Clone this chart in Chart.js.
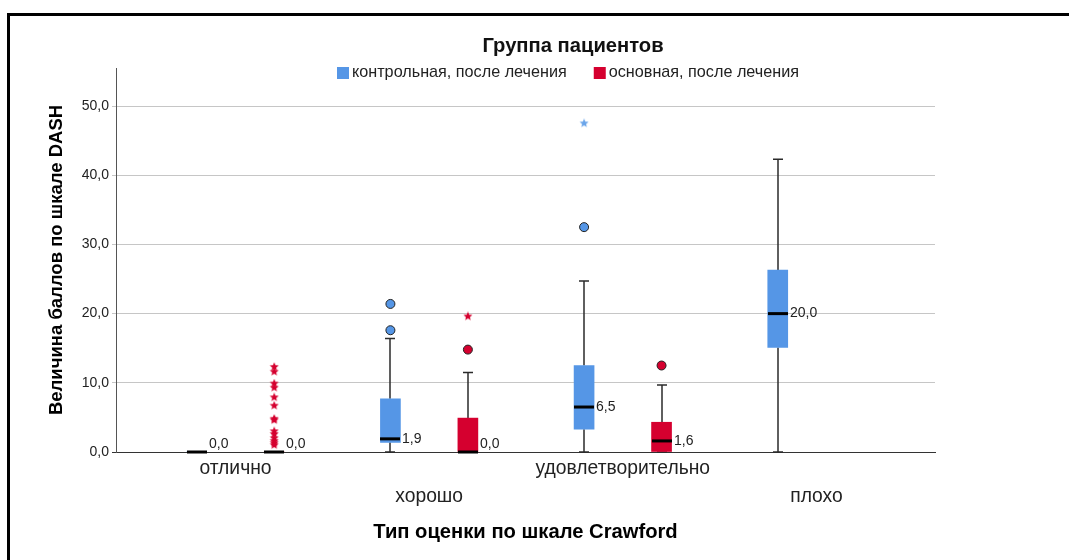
<!DOCTYPE html>
<html>
<head>
<meta charset="utf-8">
<script src="https://cdn.jsdelivr.net/npm/chart.js@4/dist/chart.umd.min.js"></script>
<style>
  html, body { margin: 0; padding: 0; background: #fff; overflow: hidden; }
  #wrap { position: relative; width: 1069px; height: 560px; }
  #frame { position: absolute; left: 7px; top: 13px; right: 0; bottom: 0;
           border-top: 3px solid #000; border-left: 3px solid #000; pointer-events: none; }
</style>
</head>
<body>
<div id="wrap">
  <canvas id="chart"></canvas>
  <div id="frame"></div>
</div>
<script>
// Crawford rating categories (x axis)
const categories = ['отлично', 'хорошо', 'удовлетворительно', 'плохо'];
const seriesNames = ['контрольная, после лечения', 'основная, после лечения'];
const yTickValues = [0, 10, 20, 30, 40, 50];

// DASH score box-plot statistics per category (null = no data)
const controlMin    = [0, 0,   0,    0];
const controlQ1     = [0, 1.4, 3.3,  15.1];
const controlMedian = [0, 1.9, 6.5,  20.0];
const controlQ3     = [0, 7.7, 12.5, 26.3];
const controlMax    = [0, 16.4, 24.7, 42.3];

const mainMin    = [0, 0,    0,   null];
const mainQ1     = [0, 0,    0,   null];
const mainMedian = [0, 0,    1.6, null];
const mainQ3     = [0, 4.9,  4.3, null];
const mainMax    = [0, 11.5, 9.7, null];

// outliers: circles (> 1.5 IQR) and stars (> 3 IQR)
const controlCircles = [[], [17.6, 21.4], [32.5], []];
const controlStars   = [[], [], [47.5], []];
const mainCircles    = [[], [14.8], [12.5], []];
const mainStars      = [[12.3, 11.6, 9.9, 9.3, 7.9, 6.7, 4.8, 4.6, 3.0, 2.6, 2.0, 1.6, 1.3, 1.0], [19.6], [], []];

// styling
const FONT = "'Liberation Sans', Arial, sans-serif";
const BLUE = '#5596e6';
const RED = '#d5002f';
const BLUE_STAR = '#6aa5ea';
const BOX_W = 20;
const CAP_W = 10;
const GROUP_OFFSET = [-0.2, 0.2];

const groups = [
  { min: controlMin, q1: controlQ1, med: controlMedian, q3: controlQ3, max: controlMax, off: GROUP_OFFSET[0] },
  { min: mainMin, q1: mainQ1, med: mainMedian, q3: mainQ3, max: mainMax, off: GROUP_OFFSET[1] }
];

function fmt(v) { return v.toFixed(1).replace('.', ','); }

function makeStar(color, size) {
  const c = document.createElement('canvas');
  c.width = size; c.height = size;
  const g = c.getContext('2d');
  const cx = size / 2, cy = size / 2, R = size / 2 - 0.3, r = R * 0.45;
  g.beginPath();
  for (let k = 0; k < 10; k++) {
    const a = -Math.PI / 2 + k * Math.PI / 5;
    const rr = k % 2 === 0 ? R : r;
    g.lineTo(cx + rr * Math.cos(a), cy + rr * Math.sin(a));
  }
  g.closePath();
  g.fillStyle = color;
  g.fill();
  return c;
}

function boxData(g) {
  const out = [];
  g.q3.forEach((q3, i) => { if (q3 != null) out.push({ x: i + g.off, y: [g.q1[i], q3] }); });
  return out;
}
function pointData(list, off) {
  const out = [];
  list.forEach((vals, i) => vals.forEach(v => out.push({ x: i + off, y: v })));
  return out;
}

// whiskers under the boxes, medians and median labels on top
const boxWhiskers = {
  id: 'boxWhiskers',
  beforeDatasetsDraw(chart) {
    const { ctx, scales: { x, y } } = chart;
    ctx.save();
    ctx.strokeStyle = '#2b2b2b';
    ctx.lineWidth = 1.5;
    groups.forEach(g => {
      g.max.forEach((mx, i) => {
        if (mx == null || mx === g.q3[i]) return;
        const px = Math.round(x.getPixelForValue(i + g.off));
        const yMax = y.getPixelForValue(mx), yQ3 = y.getPixelForValue(g.q3[i]);
        const yQ1 = y.getPixelForValue(g.q1[i]), yMin = y.getPixelForValue(g.min[i]);
        ctx.beginPath();
        ctx.moveTo(px, yQ3); ctx.lineTo(px, yMax);
        ctx.moveTo(px, yQ1); ctx.lineTo(px, yMin);
        ctx.moveTo(px - CAP_W / 2, yMax); ctx.lineTo(px + CAP_W / 2, yMax);
        ctx.moveTo(px - CAP_W / 2, yMin); ctx.lineTo(px + CAP_W / 2, yMin);
        ctx.stroke();
      });
    });
    ctx.restore();
  },
  afterDatasetsDraw(chart) {
    const { ctx, scales: { x, y } } = chart;
    const yZero = y.getPixelForValue(0);
    ctx.save();
    groups.forEach(g => {
      g.med.forEach((m, i) => {
        if (m == null) return;
        const px = Math.round(x.getPixelForValue(i + g.off));
        const py = y.getPixelForValue(m);
        ctx.fillStyle = '#000';
        ctx.fillRect(px - BOX_W / 2, py - 1.5, BOX_W, 3);
        ctx.font = '14px ' + FONT;
        ctx.fillStyle = '#222';
        ctx.textAlign = 'left';
        ctx.textBaseline = 'middle';
        ctx.fillText(fmt(m), px + BOX_W / 2 + 2, Math.min(py, yZero - 8));
      });
    });
    ctx.restore();
  }
};

// group title and legend above the plot
const header = {
  id: 'header',
  afterDraw(chart) {
    const { ctx } = chart;
    ctx.save();
    ctx.fillStyle = '#111';
    ctx.font = 'bold 20.2px ' + FONT;
    ctx.textAlign = 'center';
    ctx.textBaseline = 'middle';
    ctx.fillText('Группа пациентов', 573, 46);

    const items = chart.data.datasets.filter(d => d.type === 'bar');
    ctx.font = '16.2px ' + FONT;
    const sq = 12, gapIn = 3, gapOut = 27;
    const widths = items.map(d => sq + gapIn + ctx.measureText(d.label).width);
    const total = widths.reduce((a, b) => a + b, 0) + gapOut * (items.length - 1);
    let cx = 568 - total / 2;
    const cy = 73;
    items.forEach((d, k) => {
      ctx.fillStyle = d.backgroundColor;
      ctx.fillRect(cx, cy - 6, sq, sq);
      ctx.fillStyle = '#222';
      ctx.textAlign = 'left';
      ctx.fillText(d.label, cx + sq + gapIn, cy);
      cx += widths[k] + gapOut;
    });
    ctx.restore();
  }
};

const PAD_L = 30;

new Chart(document.getElementById('chart'), {
  type: 'bar',
  data: {
    datasets: [
      { type: 'bar', label: seriesNames[0], data: boxData(groups[0]), backgroundColor: BLUE,
        borderWidth: 0, barThickness: BOX_W, grouped: false },
      { type: 'bar', label: seriesNames[1], data: boxData(groups[1]), backgroundColor: RED,
        borderWidth: 0, barThickness: BOX_W, grouped: false },
      { type: 'scatter', label: 'controlCircles', data: pointData(controlCircles, GROUP_OFFSET[0]),
        pointStyle: 'circle', pointRadius: 4.5, backgroundColor: BLUE, borderColor: '#222', borderWidth: 1 },
      { type: 'scatter', label: 'mainCircles', data: pointData(mainCircles, GROUP_OFFSET[1]),
        pointStyle: 'circle', pointRadius: 4.5, backgroundColor: RED, borderColor: '#222', borderWidth: 1 },
      { type: 'scatter', label: 'controlStars', data: pointData(controlStars, GROUP_OFFSET[0]),
        pointStyle: makeStar(BLUE_STAR, 10) },
      { type: 'scatter', label: 'mainStars', data: pointData(mainStars, GROUP_OFFSET[1]),
        pointStyle: makeStar(RED, 10) }
    ]
  },
  options: {
    responsive: true,
    maintainAspectRatio: false,
    animation: false,
    events: [],
    layout: { padding: { left: PAD_L, right: 134, top: 68, bottom: 0 } },
    plugins: { legend: { display: false }, title: { display: false }, tooltip: { enabled: false } },
    scales: {
      x: {
        type: 'linear',
        offset: false,
        min: -0.617,
        max: 3.612,
        afterBuildTicks: s => { s.ticks = categories.map((_, i) => ({ value: i })); },
        afterFit: s => { s.height = 108; },
        grid: { display: false, drawTicks: false },
        border: { display: true, color: '#333', width: 1 },
        ticks: {
          padding: 3,
          color: '#222',
          maxRotation: 0,
          autoSkip: false,
          font: { family: FONT, size: 19.3, lineHeight: '28px' },
          callback: v => { const i = Math.round(v); return i % 2 ? ['', categories[i]] : categories[i]; }
        },
        title: {
          display: true,
          text: 'Тип оценки по шкале Crawford',
          color: '#000',
          font: { family: FONT, size: 20.2, weight: 'bold', lineHeight: 1.2 },
          padding: { top: 0, bottom: 15 }
        }
      },
      y: {
        min: 0,
        max: 55.5,
        afterBuildTicks: s => { s.ticks = yTickValues.map(v => ({ value: v })); },
        afterFit: s => { s.width = 116 - PAD_L; },
        grid: {
          color: c => (c.tick && c.tick.value === 0 ? '#333' : '#c6c6c6'),
          lineWidth: 1,
          tickLength: 4
        },
        border: { display: true, color: '#555', width: 1 },
        ticks: {
          padding: 3,
          color: '#222',
          font: { family: FONT, size: 14 },
          callback: v => fmt(v)
        },
        title: {
          display: true,
          text: 'Величина баллов по шкале DASH',
          color: '#000',
          font: { family: FONT, size: 18.5, weight: 'bold', lineHeight: 1.2 },
          padding: { top: 16, bottom: 0 }
        }
      }
    }
  },
  plugins: [boxWhiskers, header]
});
</script>
</body>
</html>
